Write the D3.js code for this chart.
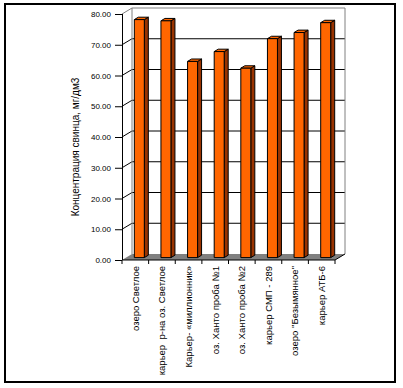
<!DOCTYPE html>
<html>
  <body style="margin:0;background:#fff">
    <style>
      text { font-family: Arial, "Liberation Sans", sans-serif; fill: #000; }
    </style>
    <script src="https://d3js.org/d3.v7.min.js"></script>
    <script type="text/javascript">
      // 3D-looking column chart: lead concentration by sampling site
      const width = 403;
      const height = 388;

      const categories = [
        'озеро Светлое',
        'карьер  р-на оз. Светлое',
        'Карьер- «миллионник»',
        'оз. Ханто проба №1',
        'оз. Ханто проба №2',
        'карьер СМП - 289',
        'озеро "Безымянное"',
        'карьер АТБ-6'
      ];
      const values = [77.4, 77.0, 63.8, 67.0, 61.6, 71.2, 73.2, 76.4];
      const yTicks = [0, 10, 20, 30, 40, 50, 60, 70, 80];
      const yTitle = 'Концентрация свинца, мг/дм3';

      const depthX = 10;
      const depthY = -6;

      const svg = d3.select('body')
        .append('svg')
        .attr('width', width)
        .attr('height', height);

      svg.append('rect')
        .attr('x', 5).attr('y', 4)
        .attr('width', 390).attr('height', 378)
        .attr('fill', 'none')
        .attr('stroke', '#000')
        .attr('stroke-width', 2);

      const x = d3.scaleBand()
        .domain(categories)
        .range([122, 335]);

      const y = d3.scaleLinear()
        .domain([0, 80])
        .range([260, 14]);

      // project a point at depth fraction f (0 = front, 1 = back wall)
      function p(px, py, f) {
        return [px + f * depthX, py + f * depthY];
      }

      const x0 = x.range()[0];
      const x1 = x.range()[1];

      // back wall gridlines
      svg.selectAll('.grid')
        .data(yTicks.filter((d) => d > 0 && d < 80))
        .enter()
        .append('line')
        .attr('x1', x0 + depthX).attr('x2', x1 + depthX)
        .attr('y1', (d) => y(d) + depthY).attr('y2', (d) => y(d) + depthY)
        .attr('stroke', '#000');

      // side wall diagonals
      svg.selectAll('.diag')
        .data(yTicks.filter((d) => d > 0 && d < 80))
        .enter()
        .append('line')
        .attr('x1', x0).attr('x2', x0 + depthX)
        .attr('y1', (d) => y(d)).attr('y2', (d) => y(d) + depthY)
        .attr('stroke', '#000');

      // wall outline
      svg.append('path')
        .attr('d', `M${x0},${y(80)} L${x0 + depthX},${y(80) + depthY} L${x1 + depthX},${y(80) + depthY} L${x1 + depthX},${y(0) + depthY}`)
        .attr('fill', 'none')
        .attr('stroke', '#808080');
      svg.append('line')
        .attr('x1', x0 + depthX).attr('x2', x0 + depthX)
        .attr('y1', y(80) + depthY).attr('y2', y(0) + depthY)
        .attr('stroke', '#808080');

      // floor
      svg.append('polygon')
        .attr('points', [
          [x0, y(0)], [x0 + depthX, y(0) + depthY],
          [x1 + depthX, y(0) + depthY], [x1, y(0)]
        ].join(' '))
        .attr('fill', '#808080');
      svg.append('path')
        .attr('d', `M${x0},${y(0)} L${x1},${y(0)} L${x1 + depthX},${y(0) + depthY}`)
        .attr('fill', 'none')
        .attr('stroke', '#000');

      // bars
      const barW = 10;
      const f0 = 0.4;
      const f1 = 0.8;
      const bars = svg.selectAll('.bar')
        .data(categories.map((c, i) => ({ c, v: values[i] })))
        .enter()
        .append('g');

      bars.append('polygon')
        .attr('points', (d) => {
          const bx = x(d.c) + (x.bandwidth() - barW) / 2;
          return [p(bx + barW, y(d.v), f0), p(bx + barW, y(d.v), f1),
            p(bx + barW, y(0), f1), p(bx + barW, y(0), f0)].join(' ');
        })
        .attr('fill', '#993300')
        .attr('stroke', '#000')
        .attr('stroke-linejoin', 'round');

      bars.append('polygon')
        .attr('points', (d) => {
          const bx = x(d.c) + (x.bandwidth() - barW) / 2;
          return [p(bx, y(d.v), f0), p(bx + barW, y(d.v), f0),
            p(bx + barW, y(d.v), f1), p(bx, y(d.v), f1)].join(' ');
        })
        .attr('fill', '#ff6600')
        .attr('stroke', '#000')
        .attr('stroke-linejoin', 'round');

      bars.append('polygon')
        .attr('points', (d) => {
          const bx = x(d.c) + (x.bandwidth() - barW) / 2;
          return [p(bx, y(d.v), f0), p(bx + barW, y(d.v), f0),
            p(bx + barW, y(0), f0), p(bx, y(0), f0)].join(' ');
        })
        .attr('fill', '#ff6600')
        .attr('stroke', '#000')
        .attr('stroke-linejoin', 'round');

      // y axis
      const yAxis = d3.axisLeft(y)
        .tickValues(yTicks)
        .tickSize(7)
        .tickPadding(4)
        .tickFormat(d3.format('.2f'));
      const gy = svg.append('g')
        .attr('transform', `translate(${x0},0)`)
        .call(yAxis);
      gy.selectAll('text').style('font-size', '8px');
      gy.select('.domain').attr('d', `M0.5,${y(80)}V${y(0)}`);

      // x axis ticks at category boundaries
      svg.selectAll('.xb')
        .data(d3.range(categories.length + 1))
        .enter()
        .append('line')
        .attr('x1', (i) => x0 + i * x.step()).attr('x2', (i) => x0 + i * x.step())
        .attr('y1', y(0)).attr('y2', y(0) + 4)
        .attr('stroke', '#000');

      // category labels
      svg.selectAll('.cat')
        .data(categories)
        .enter()
        .append('text')
        .attr('transform', (d) => `translate(${x(d) + x.bandwidth() / 2},${y(0) + 6}) rotate(-90)`)
        .attr('dy', '0.35em')
        .attr('text-anchor', 'end')
        .style('font-size', '9.5px')
        .style('white-space', 'pre')
        .text((d) => d);

      // y title
      svg.append('text')
        .attr('transform', 'translate(75,147) rotate(-90)')
        .attr('dy', '0.35em')
        .attr('text-anchor', 'middle')
        .style('font-size', '10px')
        .text(yTitle);
    </script>
  </body>
</html>
